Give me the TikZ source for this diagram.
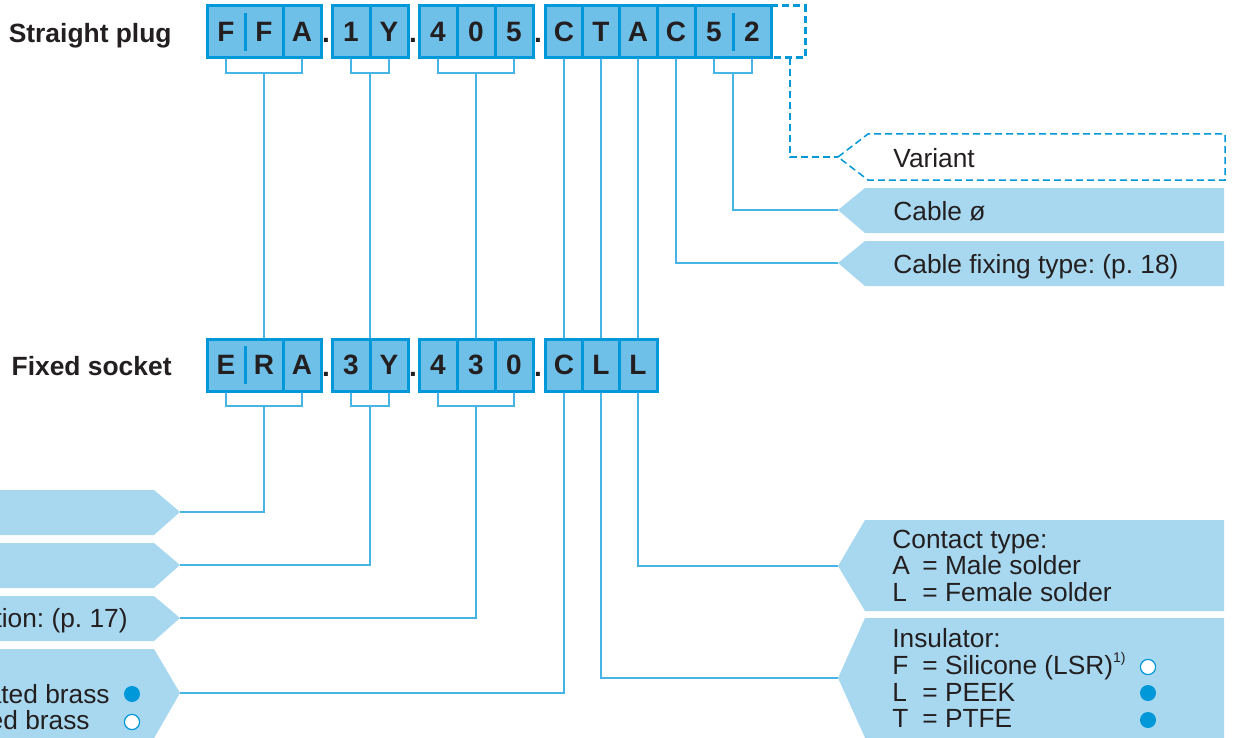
\documentclass[tikz,border=0pt]{standalone}
\usepackage{fontspec}
\setmainfont{Liberation Sans}
\definecolor{cellfill}{RGB}{110,192,233}
\definecolor{cellborder}{RGB}{0,152,216}
\definecolor{labfill}{RGB}{168,216,240}
\definecolor{connc}{RGB}{70,180,228}
\definecolor{txt}{RGB}{35,31,32}
\tikzset{
  cell/.style={draw=cellborder, fill=cellfill, line width=1.5pt, minimum width=19pt, minimum height=26pt, inner sep=0pt, font=\fontsize{14}{14}\selectfont\bfseries, text=txt},
  wide/.style={cell, minimum width=38pt},
  ltr/.style={inner sep=0pt, font=\fontsize{14}{14}\selectfont\bfseries, text=txt},
  dotl/.style={anchor=base, inner sep=0pt, font=\fontsize{14}{14}\selectfont\bfseries, text=txt},
  divider/.style={draw=cellborder, line width=1.5pt},
  conn/.style={draw=connc, line width=0.75pt},
  dconn/.style={draw=cellborder, line width=0.75pt, dash pattern=on 3.5pt off 2pt},
  lab/.style={fill=labfill},
  labtxt/.style={anchor=base west, inner sep=0pt, font=\fontsize{13.15}{13.15}\selectfont, text=txt},
  labtxtr/.style={anchor=base east, inner sep=0pt, font=\fontsize{13.15}{13.15}\selectfont, text=txt},
  titletxt/.style={anchor=base east, inner sep=0pt, font=\fontsize{13.2}{13.2}\selectfont\bfseries, text=txt},
  fdot/.style={circle, fill=cellborder, minimum size=8pt, inner sep=0pt},
  odot/.style={circle, draw=cellborder, fill=white, line width=0.6pt, minimum size=7.6pt, inner sep=0pt}
}
\newcommand{\cd}[1]{\makebox[15pt][l]{#1}}
\begin{document}
\frenchspacing
\begin{tikzpicture}[x=0.5pt,y=-0.5pt]
\useasboundingbox (0,0) rectangle (1236,738);
\clip (0,0) rectangle (1236,738);

% ---------- right label boxes ----------
\coordinate (RV) at (838,157);
\coordinate (RC) at (838,210);
\coordinate (RF) at (838,263);
\coordinate (RK) at (838,566);
\coordinate (RI) at (838,678);
\draw[dconn, fill=white] (RV) -- (868,134) -- (1225,134) -- (1225,180) -- (868,180) -- cycle;
\path[lab] (RC) -- (865,188) -- (1224,188) -- (1224,233) -- (865,233) -- cycle;
\path[lab] (RF) -- (865,241) -- (1224,241) -- (1224,286) -- (865,286) -- cycle;
\path[lab] (RK) -- (865,520) -- (1224,520) -- (1224,611) -- (865,611) -- cycle;
\path[lab] (RI) -- (865,618) -- (1224,618) -- (1224,740) -- (866,740) -- cycle;
\node[labtxt] (tV) at (893,167) {Variant};
\node[labtxt] (tC) at (893,220) {Cable ø};
\node[labtxt] (tFx) at (893,273) {Cable fixing type: (p. 18)};
\node[labtxt] (tK1) at (892,548) {Contact type:};
\node[labtxt] (tK2) at (892,574) {\cd{A}= Male solder};
\node[labtxt] (tK3) at (892,601) {\cd{L}= Female solder};
\node[labtxt] (tI1) at (892,647) {Insulator:};
\node[labtxt] (tI2) at (892,674) {\cd{F}= Silicone (LSR)\raisebox{0.8ex}{\fontsize{7}{7}\selectfont 1)}};
\node[labtxt] (tI3) at (892,701) {\cd{L}= PEEK};
\node[labtxt] (tI4) at (892,727) {\cd{T}= PTFE};
\node[odot] (oI1) at (1148,667) {};
\node[fdot] (fI2) at (1148,693) {};
\node[fdot] (fI3) at (1148,720) {};

% ---------- left label boxes ----------
\coordinate (L1) at (180,512);
\coordinate (L2) at (180,565);
\coordinate (L3) at (180,618);
\coordinate (L4) at (180,693);
\path[lab] (L1) -- (154,535) -- (-10,535) -- (-10,490) -- (154,490) -- cycle;
\path[lab] (L2) -- (154,588) -- (-10,588) -- (-10,543) -- (154,543) -- cycle;
\path[lab] (L3) -- (154,641) -- (-10,641) -- (-10,596) -- (154,596) -- cycle;
\path[lab] (L4) -- (153,740) -- (-10,740) -- (-10,649) -- (154,649) -- cycle;
\node[labtxtr] (tL3) at (128,627) {ation: (p. 17)};
\node[labtxtr] (tL4a) at (110,703) {ated brass};
\node[labtxtr] (tL4b) at (90,729) {ed brass};
\node[fdot] (fL1) at (132,694) {};
\node[odot] (oL2) at (132,722) {};

% ---------- titles ----------
\node[titletxt] (t1) at (172,43) {Straight plug};
\node[titletxt] (t2) at (172,375) {Fixed socket};

% ---------- row 1 cells ----------
\node[wide] (cFF) at (245,32) {};
\node[ltr] (tF1) at (226,32) {F};
\node[ltr] (tF2) at (264,32) {F};
\draw[divider] (245,13) -- (245,51);
\node[cell] (cA1) at (302,32) {A};
\node[dotl] (d11) at (326,43) {.};
\node[cell] (c1) at (351,32) {1};
\node[cell] (cY1) at (389,32) {Y};
\node[dotl] (d12) at (413,43) {.};
\node[cell] (c4a) at (438,32) {4};
\node[cell] (c0a) at (476,32) {0};
\node[cell] (c5a) at (514,32) {5};
\node[dotl] (d13) at (538,43) {.};
\node[cell] (cC1) at (564,32) {C};
\node[cell] (cT1) at (601,32) {T};
\node[cell] (cA3) at (638,32) {A};
\node[cell] (cC2) at (676,32) {C};
\node[wide] (c52) at (733,32) {};
\node[ltr] (t5) at (714,32) {5};
\node[ltr] (t2x) at (752,32) {2};
\draw[divider] (733,13) -- (733,51);
\coordinate (vTL) at (771,6);
\coordinate (vBL) at (771,58);
\coordinate (vd) at (790,58);
\draw[cellborder, line width=1.5pt, dash pattern=on 3.5pt off 2pt] (vTL) -- (805,6) -- (805,58) -- (vBL);

% ---------- row 2 cells ----------
\node[wide] (cER) at (245,365) {};
\node[ltr] (tE) at (226,365) {E};
\node[ltr] (tR) at (264,365) {R};
\draw[divider] (245,346) -- (245,384);
\node[cell] (cA2) at (302,365) {A};
\node[dotl] (d21) at (326,376) {.};
\node[cell] (c3a) at (351,365) {3};
\node[cell] (cY2) at (389,365) {Y};
\node[dotl] (d22) at (413,376) {.};
\node[cell] (c4b) at (438,365) {4};
\node[cell] (c3b) at (476,365) {3};
\node[cell] (c0b) at (514,365) {0};
\node[dotl] (d23) at (538,376) {.};
\node[cell] (cC3) at (564,365) {C};
\node[cell] (cL1) at (601,365) {L};
\node[cell] (cL2) at (638,365) {L};

% ---------- connectors ----------
\coordinate (k1) at (264,73);
\coordinate (k2) at (370,73);
\coordinate (k3) at (476,73);
\coordinate (k4) at (733,73);
\draw[conn] (tF1 |- cFF.south) |- (k1) -| (cA1.south);
\draw[conn] (c1.south) |- (k2) -| (cY1.south);
\draw[conn] (c4a.south) |- (k3) -| (c5a.south);
\draw[conn] (t5 |- c52.south) |- (k4) -| (t2x |- c52.south);
\draw[conn] (k1) -- (k1 |- cER.north);
\draw[conn] (k2) -- (k2 |- c3a.north);
\draw[conn] (k3) -- (c3b.north);
\draw[conn] (cC1.south) -- (cC3.north);
\draw[conn] (cT1.south) -- (cL1.north);
\draw[conn] (cA3.south) -- (cL2.north);
\draw[conn] (cC2.south) |- (RF);
\draw[conn] (k4) |- (RC);
\draw[dconn] (vd) |- (RV);
\coordinate (m1) at (264,406);
\coordinate (m2) at (370,406);
\coordinate (m3) at (476,406);
\draw[conn] (tE |- cER.south) |- (m1) -| (cA2.south);
\draw[conn] (c3a.south) |- (m2) -| (cY2.south);
\draw[conn] (c4b.south) |- (m3) -| (c0b.south);
\draw[conn] (m1) |- (L1);
\draw[conn] (m2) |- (L2);
\draw[conn] (m3) |- (L3);
\draw[conn] (cC3.south) |- (L4);
\draw[conn] (cL1.south) |- (RI);
\draw[conn] (cL2.south) |- (RK);
\end{tikzpicture}
\end{document}
